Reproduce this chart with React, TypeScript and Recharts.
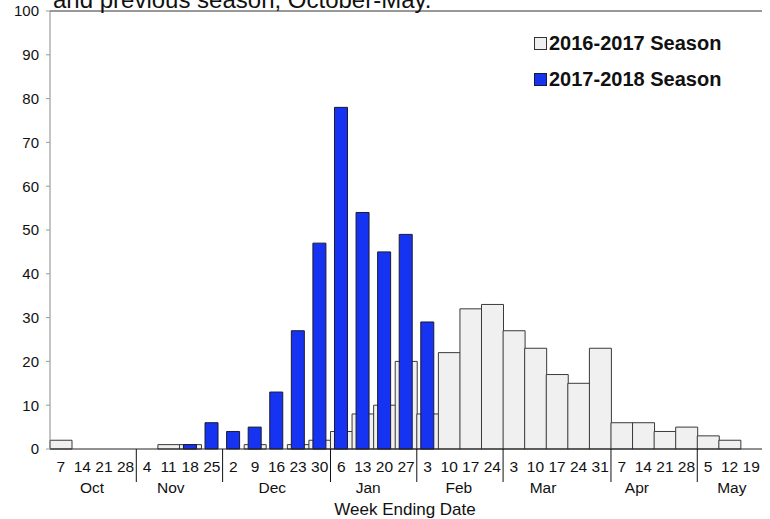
import { Bar, BarChart, ReferenceLine, XAxis, YAxis } from "recharts"

const WEEKS = ["7", "14", "21", "28", "4", "11", "18", "25", "2", "9", "16", "23", "30", "6", "13", "20", "27", "3", "10", "17", "24", "3", "10", "17", "24", "31", "7", "14", "21", "28", "5", "12", "19"]
const MONTHS = ["Oct", "Nov", "Dec", "Jan", "Feb", "Mar", "Apr", "May"]
const SEASON_1617 = [2, 0, 0, 0, 0, 1, 1, 0, 0, 1, 0, 1, 2, 4, 8, 10, 20, 8, 22, 32, 33, 27, 23, 17, 15, 23, 6, 6, 4, 5, 3, 2, 0]
const SEASON_1718 = [0, 0, 0, 0, 0, 0, 1, 6, 4, 5, 13, 27, 47, 78, 54, 45, 49, 29]
const Y_TICKS = [0, 10, 20, 30, 40, 50, 60, 70, 80, 90, 100]

const FONT = "'Liberation Sans', Arial, sans-serif"
const BLUE = "#1733F2"
const GRAY = "#F0F0F0"

const W = 770
const H = 519
const PLOT_LEFT = 50
const PLOT_RIGHT = 762
const BAND = (PLOT_RIGHT - PLOT_LEFT) / WEEKS.length
// where each month name sits, in bands from the plot's left edge
const MONTH_POS = [1.95, 5.6, 10.3, 14.75, 18.95, 22.85, 27.2, 31.6]

// a new month starts where the day number drops
const monthStarts: number[] = []
WEEKS.forEach((d, i) => {
  if (i === 0 || Number(d) < Number(WEEKS[i - 1])) monthStarts.push(i)
})

const data = WEEKS.map((w, i) => ({
  i,
  week: w,
  s1617: SEASON_1617[i],
  s1718: i < SEASON_1718.length ? SEASON_1718[i] : null,
}))

function WeekTick(props: any) {
  const { x, y, payload } = props
  const i = payload.value as number
  const m = monthStarts.indexOf(i)
  let month = null
  if (m >= 0) {
    const mx = x + (MONTH_POS[m] - i - 0.5) * BAND
    month = (
      <g>
        {i > 0 && <line x1={x - BAND / 2} x2={x - BAND / 2} y1={y} y2={y + 33} stroke="#111" strokeWidth={1} />}
        <text x={mx} y={y + 43.5} textAnchor="middle" fontSize={15.5} fontFamily={FONT} fill="#111">
          {MONTHS[m]}
        </text>
      </g>
    )
  }
  return (
    <g>
      <text x={x} y={y + 22.5} textAnchor="middle" fontSize={15.5} fontFamily={FONT} fill="#111">
        {WEEKS[i]}
      </text>
      {month}
    </g>
  )
}

export default function App() {
  return (
    <div style={{ position: "absolute", left: 0, top: 0, width: W, height: H, background: "#fff" }}>
      <BarChart
        width={W}
        height={H}
        data={data}
        margin={{ top: 11, right: W - PLOT_RIGHT, bottom: 0, left: 0 }}
        barCategoryGap={0}
        barGap={0}
      >
        <XAxis
          xAxisId="a"
          dataKey="i"
          type="category"
          interval={0}
          height={H - 449}
          tickSize={0}
          tickMargin={0}
          tickLine={false}
          axisLine={{ stroke: "#222" }}
          tick={<WeekTick />}
        />
        <XAxis xAxisId="b" dataKey="i" type="category" hide />
        <YAxis
          domain={[0, 100]}
          ticks={Y_TICKS}
          width={PLOT_LEFT}
          interval={0}
          tickSize={4}
          tickMargin={7}
          tickLine={{ stroke: "#999" }}
          axisLine={{ stroke: "#888" }}
          tick={{ fontSize: 15, fontFamily: FONT, fill: "#111" }}
        />
        <YAxis yAxisId="r" orientation="right" width={0} domain={[0, 100]} tick={false} tickLine={false} axisLine={{ stroke: "#333" }} />
        <ReferenceLine xAxisId="a" y={100} stroke="#333" ifOverflow="visible" />
        <Bar xAxisId="a" dataKey="s1617" fill={GRAY} stroke="#3a3a3a" strokeWidth={1} isAnimationActive={false} />
        <Bar xAxisId="b" dataKey="s1718" barSize={13} fill={BLUE} stroke="#1a1a30" strokeWidth={1} isAnimationActive={false} />
      </BarChart>
      <svg width={W} height={H} style={{ position: "absolute", left: 0, top: 0, pointerEvents: "none" }}>
        <text x={53} y={8} fontSize={24} fontFamily={FONT} fill="#111">
          and previous season, October-May.
        </text>
        <rect x={534.5} y={37.5} width={12} height={12} fill={GRAY} stroke="#333" />
        <text x={549} y={50} fontSize={20} fontWeight="bold" fontFamily={FONT} fill="#111">
          2016-2017 Season
        </text>
        <rect x={534.5} y={73.5} width={12} height={12} fill={BLUE} stroke="#1a1a30" />
        <text x={549} y={86} fontSize={20} fontWeight="bold" fontFamily={FONT} fill="#111">
          2017-2018 Season
        </text>
        <text x={405} y={514.5} textAnchor="middle" fontSize={17} fontFamily={FONT} fill="#111">
          Week Ending Date
        </text>
      </svg>
    </div>
  )
}
